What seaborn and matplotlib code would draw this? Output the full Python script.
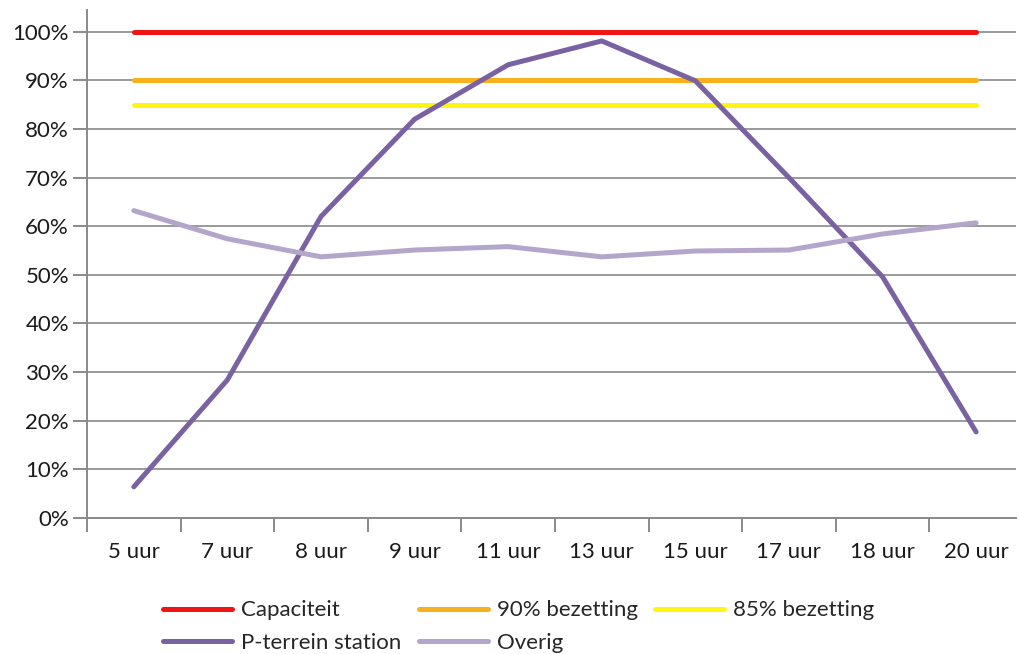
import pandas as pd
import matplotlib
matplotlib.use("Agg")
import matplotlib.pyplot as plt
import seaborn as sns
from matplotlib.ticker import FixedLocator, PercentFormatter

sns.set_theme(style="white")
plt.rcParams['font.family'] = ['Lato', 'DejaVu Sans']

hours = ["5 uur", "7 uur", "8 uur", "9 uur", "11 uur", "13 uur", "15 uur", "17 uur", "18 uur", "20 uur"]
capaciteit = [100, 100, 100, 100, 100, 100, 100, 100, 100, 100]
bezetting_90 = [90, 90, 90, 90, 90, 90, 90, 90, 90, 90]
bezetting_85 = [85, 85, 85, 85, 85, 85, 85, 85, 85, 85]
p_terrein = [6.4, 28.4, 62.0, 82.0, 93.2, 98.1, 89.9, 70.0, 49.6, 17.7]
overig = [63.2, 57.4, 53.7, 55.1, 55.8, 53.7, 54.9, 55.1, 58.4, 60.7]

series = {
    "Capaciteit": capaciteit,
    "90% bezetting": bezetting_90,
    "85% bezetting": bezetting_85,
    "P-terrein station": p_terrein,
    "Overig": overig,
}
palette = {
    "Capaciteit": "#F01414",
    "90% bezetting": "#F7B11C",
    "85% bezetting": "#FFF514",
    "P-terrein station": "#7A62A2",
    "Overig": "#B4A6CB",
}

rows = []
for name, vals in series.items():
    for h, v in zip(hours, vals):
        rows.append({"Uur": h, "Waarde": v, "Reeks": name})
df = pd.DataFrame(rows)

fig = plt.figure(figsize=(10.19, 6.54), dpi=100)
ax = fig.add_axes([0.0854, 0.208, 0.912, 0.777])

ax.yaxis.grid(True, color="#9a9a9a", linewidth=1.4)
ax.set_axisbelow(True)

sns.lineplot(data=df, x="Uur", y="Waarde", hue="Reeks", palette=palette,
             sort=False, linewidth=3.6, ax=ax, legend=True)

ax.set_xlim(-0.5, 9.43)
ax.set_ylim(0, 104.5)
ax.set_yticks(range(0, 101, 10))
ax.yaxis.set_major_formatter(PercentFormatter(decimals=0))
ax.set_xlabel("")
ax.set_ylabel("")

# category boundaries as tick marks, labels centred
ax.set_xticks(range(len(hours)))
ax.set_xticklabels(hours)
ax.xaxis.set_minor_locator(FixedLocator([i + 0.5 for i in range(-1, len(hours))]))
ax.tick_params(axis="x", which="major", length=0, pad=17, labelsize=16, colors="#1a1a1a")
ax.tick_params(axis="x", which="minor", length=10, width=1.4, color="#8a8a8a", direction="out", bottom=True)
ax.tick_params(axis="y", length=10, width=1.4, color="#8a8a8a", direction="out", left=True,
               labelsize=16, labelcolor="#1a1a1a", pad=3)

for s in ["top", "right"]:
    ax.spines[s].set_visible(False)
for s in ["left", "bottom"]:
    ax.spines[s].set_color("#8a8a8a")
    ax.spines[s].set_linewidth(1.4)

handles, labels = ax.get_legend_handles_labels()
ax.get_legend().remove()
lookup = dict(zip(labels, handles))
# column-major fill, so this order gives the reference's row layout
order = ["Capaciteit", "P-terrein station", "90% bezetting", "Overig", "85% bezetting"]
fig.legend([lookup[k] for k in order], order, loc="upper left", bbox_to_anchor=(0.16, 0.082),
           ncol=3, frameon=False, fontsize=16, handlelength=3.1, handletextpad=0.4,
           columnspacing=0.8, labelspacing=0.55, borderpad=0, borderaxespad=0)

fig.savefig("out.png", dpi=100)
